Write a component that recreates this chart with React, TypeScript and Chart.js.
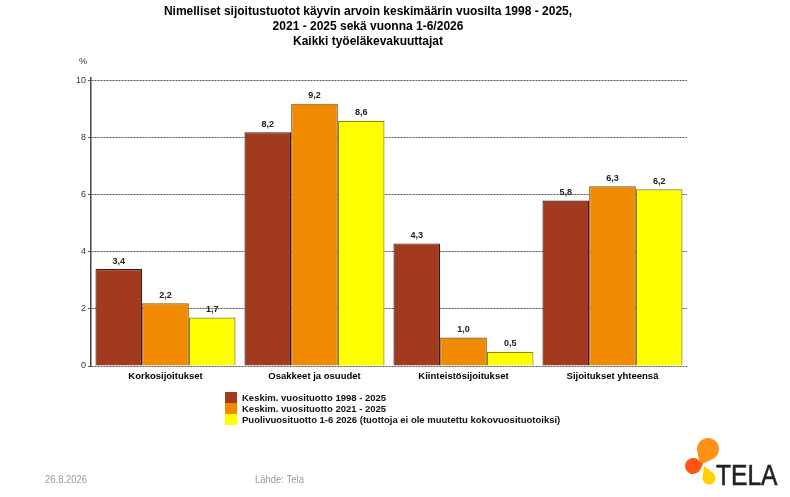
import React, { useEffect, useRef } from "react";
import { Chart, registerables } from "chart.js";

Chart.register(...registerables);

const categories = ["Korkosijoitukset", "Osakkeet ja osuudet", "Kiinteistösijoitukset", "Sijoitukset yhteensä"];
const seriesLabels = [
  "Keskim. vuosituotto 1998 - 2025",
  "Keskim. vuosituotto 2021 - 2025",
  "Puolivuosituotto 1-6 2026 (tuottoja ei ole muutettu kokovuosituotoiksi)",
];
const avg1998 = [3.4, 8.2, 4.3, 5.8];
const avg2021 = [2.2, 9.2, 1.0, 6.3];
const half2026 = [1.7, 8.6, 0.5, 6.2];
const yTicks = [0, 2, 4, 6, 8, 10];
const titleLines = [
  "Nimelliset sijoitustuotot käyvin arvoin keskimäärin vuosilta 1998 - 2025,",
  "2021 - 2025 sekä vuonna 1-6/2026",
  "Kaikki työeläkevakuuttajat",
];
const footerDate = "26.8.2026";
const footerSource = "Lähde: Tela";

const fills = ["#A23A20", "#F08A00", "#FFFF00"];
const borders = ["#3A1A10", "#8A5010", "#8A8A00"];
const FONT = '"Liberation Sans", Arial, sans-serif';

const fmt = (v: number) => v.toFixed(1).replace(".", ",");

function drop(ctx: CanvasRenderingContext2D, cx: number, cy: number, r: number, tx: number, ty: number, color: string) {
  const d = Math.hypot(tx - cx, ty - cy);
  const a = Math.atan2(ty - cy, tx - cx);
  const al = Math.acos(r / d);
  ctx.beginPath();
  ctx.arc(cx, cy, r, a + al, a - al + Math.PI * 2);
  ctx.lineTo(tx, ty);
  ctx.closePath();
  ctx.fillStyle = color;
  ctx.fill();
}

function narrowText(ctx: CanvasRenderingContext2D, t: string, x: number, y: number, sx: number) {
  ctx.save();
  ctx.translate(x, y);
  ctx.scale(sx, 1);
  ctx.fillText(t, 0, 0);
  ctx.restore();
}

const decorPlugin = {
  id: "decor",
  afterDatasetsDraw(chart: any) {
    const ctx: CanvasRenderingContext2D = chart.ctx;
    ctx.save();
    ctx.font = `bold 9px ${FONT}`;
    ctx.fillStyle = "#222";
    ctx.textAlign = "center";
    ctx.textBaseline = "middle";
    chart.data.datasets.forEach((ds: any, di: number) => {
      const meta = chart.getDatasetMeta(di);
      meta.data.forEach((el: any, i: number) => {
        ctx.fillText(fmt(ds.data[i]), el.x, el.y - 8);
      });
    });
    ctx.restore();
  },
  afterDraw(chart: any) {
    const ctx: CanvasRenderingContext2D = chart.ctx;
    ctx.save();
    // title
    ctx.font = `bold 12px ${FONT}`;
    ctx.fillStyle = "#000";
    ctx.textAlign = "center";
    ctx.textBaseline = "middle";
    titleLines.forEach((t, i) => ctx.fillText(t, 368, 12 + i * 15));
    // % label
    ctx.font = `9px ${FONT}`;
    ctx.fillStyle = "#333";
    ctx.fillText("%", 83, 62);
    // legend
    ctx.textAlign = "left";
    ctx.font = `bold 9.5px ${FONT}`;
    chart.data.datasets.forEach((ds: any, i: number) => {
      const y = 392 + i * 11;
      ctx.fillStyle = ds.backgroundColor;
      ctx.fillRect(225, y, 12, 11);
      ctx.fillStyle = "#111";
      ctx.fillText(ds.label, 242, y + 6);
    });
    // footer
    ctx.font = `11px ${FONT}`;
    ctx.fillStyle = "#9a9a9a";
    narrowText(ctx, footerDate, 45, 480, 0.86);
    narrowText(ctx, footerSource, 255, 480, 0.86);
    // logo
    drop(ctx, 708, 449, 11, 700, 465, "#FF9214");
    drop(ctx, 693, 466, 8, 703, 464, "#FF5410");
    drop(ctx, 709, 478, 6.5, 704, 466, "#FFD000");
    ctx.font = `30px ${FONT}`;
    ctx.fillStyle = "#222";
    ctx.textBaseline = "alphabetic";
    ctx.lineWidth = 0.6;
    ctx.strokeStyle = "#222";
    ctx.save();
    ctx.translate(716, 485);
    ctx.scale(0.82, 1);
    ctx.fillText("TELA", 0, 0);
    ctx.strokeText("TELA", 0, 0);
    ctx.restore();
    ctx.restore();
  },
};

export default function App() {
  const ref = useRef<HTMLCanvasElement | null>(null);
  useEffect(() => {
    document.body.style.margin = "0";
    const canvas = ref.current!;
    const data = [avg1998, avg2021, half2026];
    const chart = new Chart(canvas, {
      type: "bar",
      data: {
        labels: categories,
        datasets: data.map((d, i) => ({
          label: seriesLabels[i],
          data: d,
          backgroundColor: fills[i],
          borderColor: borders[i],
          borderWidth: 1.2,
          categoryPercentage: 0.94,
          barPercentage: 1,
        })),
      },
      options: {
        animation: false,
        responsive: false,
        devicePixelRatio: 1,
        layout: { padding: { left: 0, top: 78, right: 103, bottom: 111 } },
        plugins: { legend: { display: false }, title: { display: false }, tooltip: { enabled: false } },
        scales: {
          x: {
            grid: { display: false, drawTicks: false },
            border: { display: false },
            ticks: { font: { family: FONT, size: 9.5, weight: "bold" }, color: "#000", padding: 5 },
            afterFit: (s: any) => { s.height = 20; },
          },
          y: {
            min: 0,
            max: 10.1,
            afterBuildTicks: (s: any) => { s.ticks = yTicks.map((v) => ({ value: v })); },
            ticks: { font: { family: FONT, size: 9 }, color: "#333", padding: 2 },
            grid: { color: "#555", lineWidth: 1, tickLength: 3 },
            border: { display: true, color: "#444", width: 1.5, dash: [2, 1] },
            afterFit: (s: any) => { s.width = 91; },
          },
        },
      },
      plugins: [decorPlugin],
    } as any);
    return () => chart.destroy();
  }, []);
  return <canvas ref={ref} width={790} height={497} style={{ display: "block" }} />;
}
